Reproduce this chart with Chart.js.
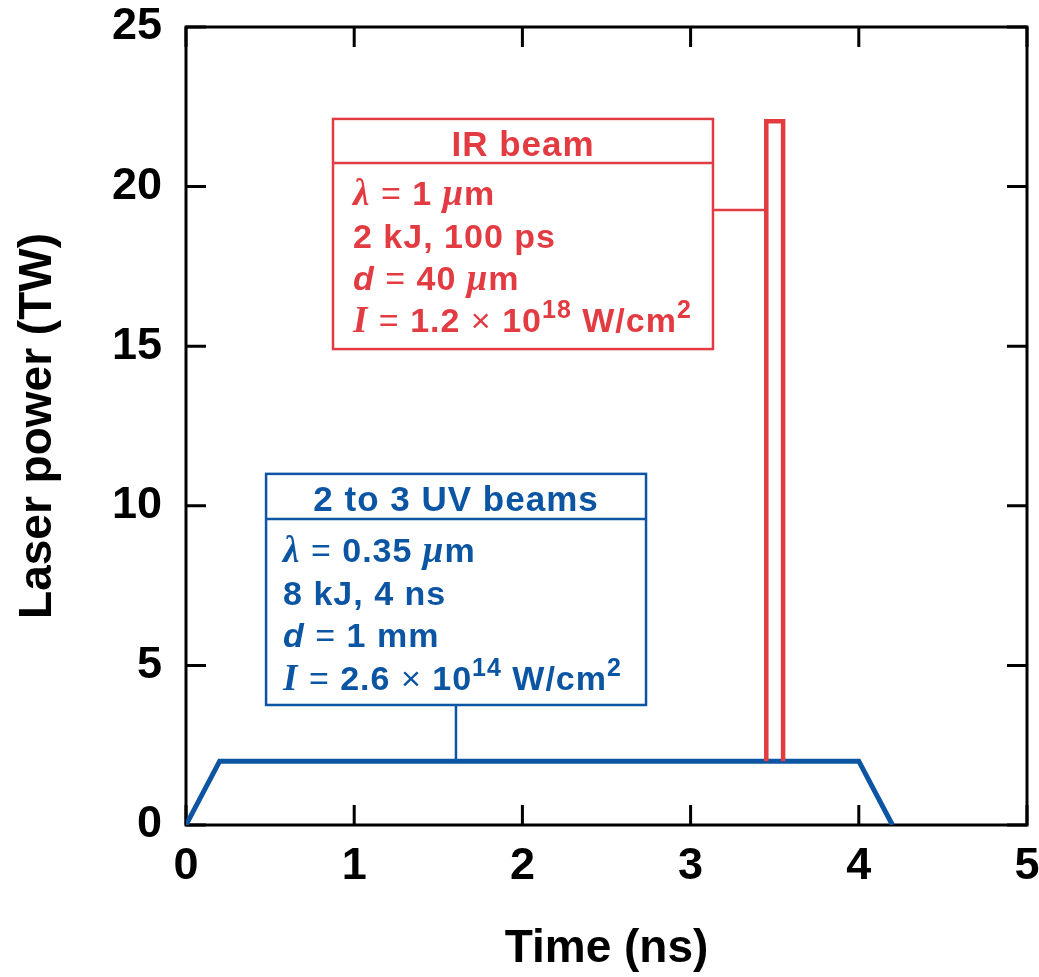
<!DOCTYPE html>
<html>
<head>
<meta charset="utf-8">
<script src="https://cdn.jsdelivr.net/npm/chart.js@4.4.1/dist/chart.umd.min.js"></script>
<style>
  html, body { margin: 0; padding: 0; background: #ffffff; }
  #wrap { width: 1039px; height: 977px; }
</style>
</head>
<body>
<div id="wrap"><canvas id="powerChart"></canvas></div>
<script>
// Laser power vs time

const uvTime = [0, 0.2, 4.0, 4.2];
const uvPower = [0, 2, 2, 0];
const irTime = [3.45, 3.45, 3.55, 3.55];
const irPower = [2, 22.05, 22.05, 2];
const xTicks = [0, 1, 2, 3, 4, 5];
const yTicks = [0, 5, 10, 15, 20, 25];

const RED = '#e23b42';
const BLUE = '#0b55a3';
const SANS = '"Liberation Sans", Arial, Helvetica, sans-serif';
const SERIF = '"Liberation Serif", "Times New Roman", serif';

function pts(xs, ys) {
    return xs.map(function(x, i) { return { x: x, y: ys[i] }; });
}

// text helpers
const B = function(t) { return { t: t, f: 'bold 34px ' + SANS }; };
const R = function(t) { return { t: t, f: '34px ' + SANS }; };
const I = function(t) { return { t: t, f: 'italic bold 34px ' + SANS }; };
const IS = function(t) { return { t: t, f: 'italic bold 37px ' + SERIF }; };
const SUP = function(t) { return { t: t, f: 'bold 25px ' + SANS, dy: -14 }; };

function drawRich(ctx, x, y, segs) {
    segs.forEach(function(s) {
        ctx.font = s.f;
        ctx.fillText(s.t, x, y + (s.dy || 0));
        x += ctx.measureText(s.t).width;
    });
}

// annotation boxes (box edges in data units, text offsets in px)
const boxes = [
    {
        color: RED, x0: 0.874, x1: 3.133, yTop: 22.12, yBottom: 14.91,
        header: 'IR beam', headerBase: 37, divider: 44, indent: 20,
        lines: [
            [IS('λ'), R(' = '), B('1 '), IS('μ'), B('m')],
            [B('2 kJ, 100 ps')],
            [I('d'), R(' = '), B('40 '), IS('μ'), B('m')],
            [IS('I'), R(' = '), B('1.2 '), R('× '), B('10'), SUP('18'), B(' W/cm'), SUP('2')]
        ],
        bases: [86, 129, 171, 213],
        link: function(xs, ys, r) {
            return [[r.right, ys.getPixelForValue(19.27)], [xs.getPixelForValue(irTime[0]), ys.getPixelForValue(19.27)]];
        }
    },
    {
        color: BLUE, x0: 0.476, x1: 2.735, yTop: 11.0, yBottom: 3.76,
        header: '2 to 3 UV beams', headerBase: 37, divider: 45, indent: 17,
        lines: [
            [IS('λ'), R(' = '), B('0.35 '), IS('μ'), B('m')],
            [B('8 kJ, 4 ns')],
            [I('d'), R(' = '), B('1 mm')],
            [IS('I'), R(' = '), B('2.6 '), R('× '), B('10'), SUP('14'), B(' W/cm'), SUP('2')]
        ],
        bases: [88, 131, 173, 216],
        link: function(xs, ys, r) {
            const x = xs.getPixelForValue(1.605);
            return [[x, r.bottom], [x, ys.getPixelForValue(uvPower[1])]];
        }
    }
];

const framePlugin = {
    id: 'frame',
    beforeDatasetsDraw: function(chart) {
        const ctx = chart.ctx;
        const a = chart.chartArea;
        const xs = chart.scales.x;
        const ys = chart.scales.y;
        const len = 20;
        ctx.save();
        ctx.strokeStyle = '#000000';
        ctx.lineWidth = 3;
        ctx.strokeRect(a.left, a.top, a.right - a.left, a.bottom - a.top);
        ctx.beginPath();
        xTicks.forEach(function(v) {
            const px = xs.getPixelForValue(v);
            ctx.moveTo(px, a.bottom); ctx.lineTo(px, a.bottom - len);
            ctx.moveTo(px, a.top); ctx.lineTo(px, a.top + len);
        });
        yTicks.forEach(function(v) {
            const py = ys.getPixelForValue(v);
            ctx.moveTo(a.left, py); ctx.lineTo(a.left + len, py);
            ctx.moveTo(a.right, py); ctx.lineTo(a.right - len, py);
        });
        ctx.stroke();
        ctx.restore();
    }
};

const boxPlugin = {
    id: 'boxes',
    afterDatasetsDraw: function(chart) {
        const ctx = chart.ctx;
        const xs = chart.scales.x;
        const ys = chart.scales.y;
        boxes.forEach(function(b) {
            const r = {
                left: xs.getPixelForValue(b.x0), right: xs.getPixelForValue(b.x1),
                top: ys.getPixelForValue(b.yTop), bottom: ys.getPixelForValue(b.yBottom)
            };
            ctx.save();
            ctx.fillStyle = '#ffffff';
            ctx.fillRect(r.left, r.top, r.right - r.left, r.bottom - r.top);
            ctx.strokeStyle = b.color;
            ctx.lineWidth = 2.5;
            ctx.strokeRect(r.left, r.top, r.right - r.left, r.bottom - r.top);
            ctx.beginPath();
            ctx.moveTo(r.left, r.top + b.divider);
            ctx.lineTo(r.right, r.top + b.divider);
            const l = b.link(xs, ys, r);
            ctx.moveTo(l[0][0], l[0][1]);
            ctx.lineTo(l[1][0], l[1][1]);
            ctx.stroke();

            ctx.fillStyle = b.color;
            ctx.textBaseline = 'alphabetic';
            ctx.letterSpacing = '1px';
            ctx.textAlign = 'center';
            ctx.font = 'bold 35px ' + SANS;
            ctx.fillText(b.header, (r.left + r.right) / 2, r.top + b.headerBase);
            ctx.textAlign = 'left';
            b.lines.forEach(function(segs, i) {
                drawRich(ctx, r.left + b.indent, r.top + b.bases[i], segs);
            });
            ctx.restore();
        });
    }
};

document.addEventListener('DOMContentLoaded', function() {
    const ctx = document.getElementById('powerChart').getContext('2d');

    const data = {
        datasets: [
            {
                label: 'IR beam',
                data: pts(irTime, irPower),
                borderColor: RED,
                borderWidth: 4.5,
                pointRadius: 0,
                tension: 0,
                fill: false
            },
            {
                label: 'UV beams',
                data: pts(uvTime, uvPower),
                borderColor: BLUE,
                borderWidth: 5,
                pointRadius: 0,
                tension: 0,
                fill: false
            }
        ]
    };

    const tickFont = { family: SANS, size: 45, weight: 'bold' };
    const titleFont = { family: SANS, size: 46, weight: 'bold' };

    const config = {
        type: 'line',
        data: data,
        options: {
            responsive: true,
            maintainAspectRatio: false,
            animation: false,
            layout: { padding: { left: 0, top: 27, right: 12, bottom: 0 } },
            plugins: {
                legend: { display: false },
                tooltip: { enabled: false }
            },
            scales: {
                x: {
                    type: 'linear',
                    min: 0,
                    max: 5,
                    grid: { display: false },
                    border: { display: false },
                    afterBuildTicks: function(s) { s.ticks = xTicks.map(function(v) { return { value: v }; }); },
                    afterFit: function(s) { s.height = 152; s.paddingLeft = 0; s.paddingRight = 0; },
                    ticks: { color: '#000000', font: tickFont, padding: 7, maxRotation: 0 },
                    title: { display: true, text: 'Time (ns)', color: '#000000', font: titleFont, padding: { top: 0, bottom: 0 } }
                },
                y: {
                    min: 0,
                    max: 25,
                    grid: { display: false },
                    border: { display: false },
                    afterBuildTicks: function(s) { s.ticks = yTicks.map(function(v) { return { value: v }; }); },
                    afterFit: function(s) { s.width = 186; s.paddingTop = 0; s.paddingBottom = 0; },
                    ticks: { color: '#000000', font: tickFont, padding: 16 },
                    title: { display: true, text: 'Laser power (TW)', color: '#000000', font: titleFont, padding: { top: 11, bottom: 0 } }
                }
            }
        },
        plugins: [framePlugin, boxPlugin]
    };

    new Chart(ctx, config);
});
</script>
</body>
</html>
